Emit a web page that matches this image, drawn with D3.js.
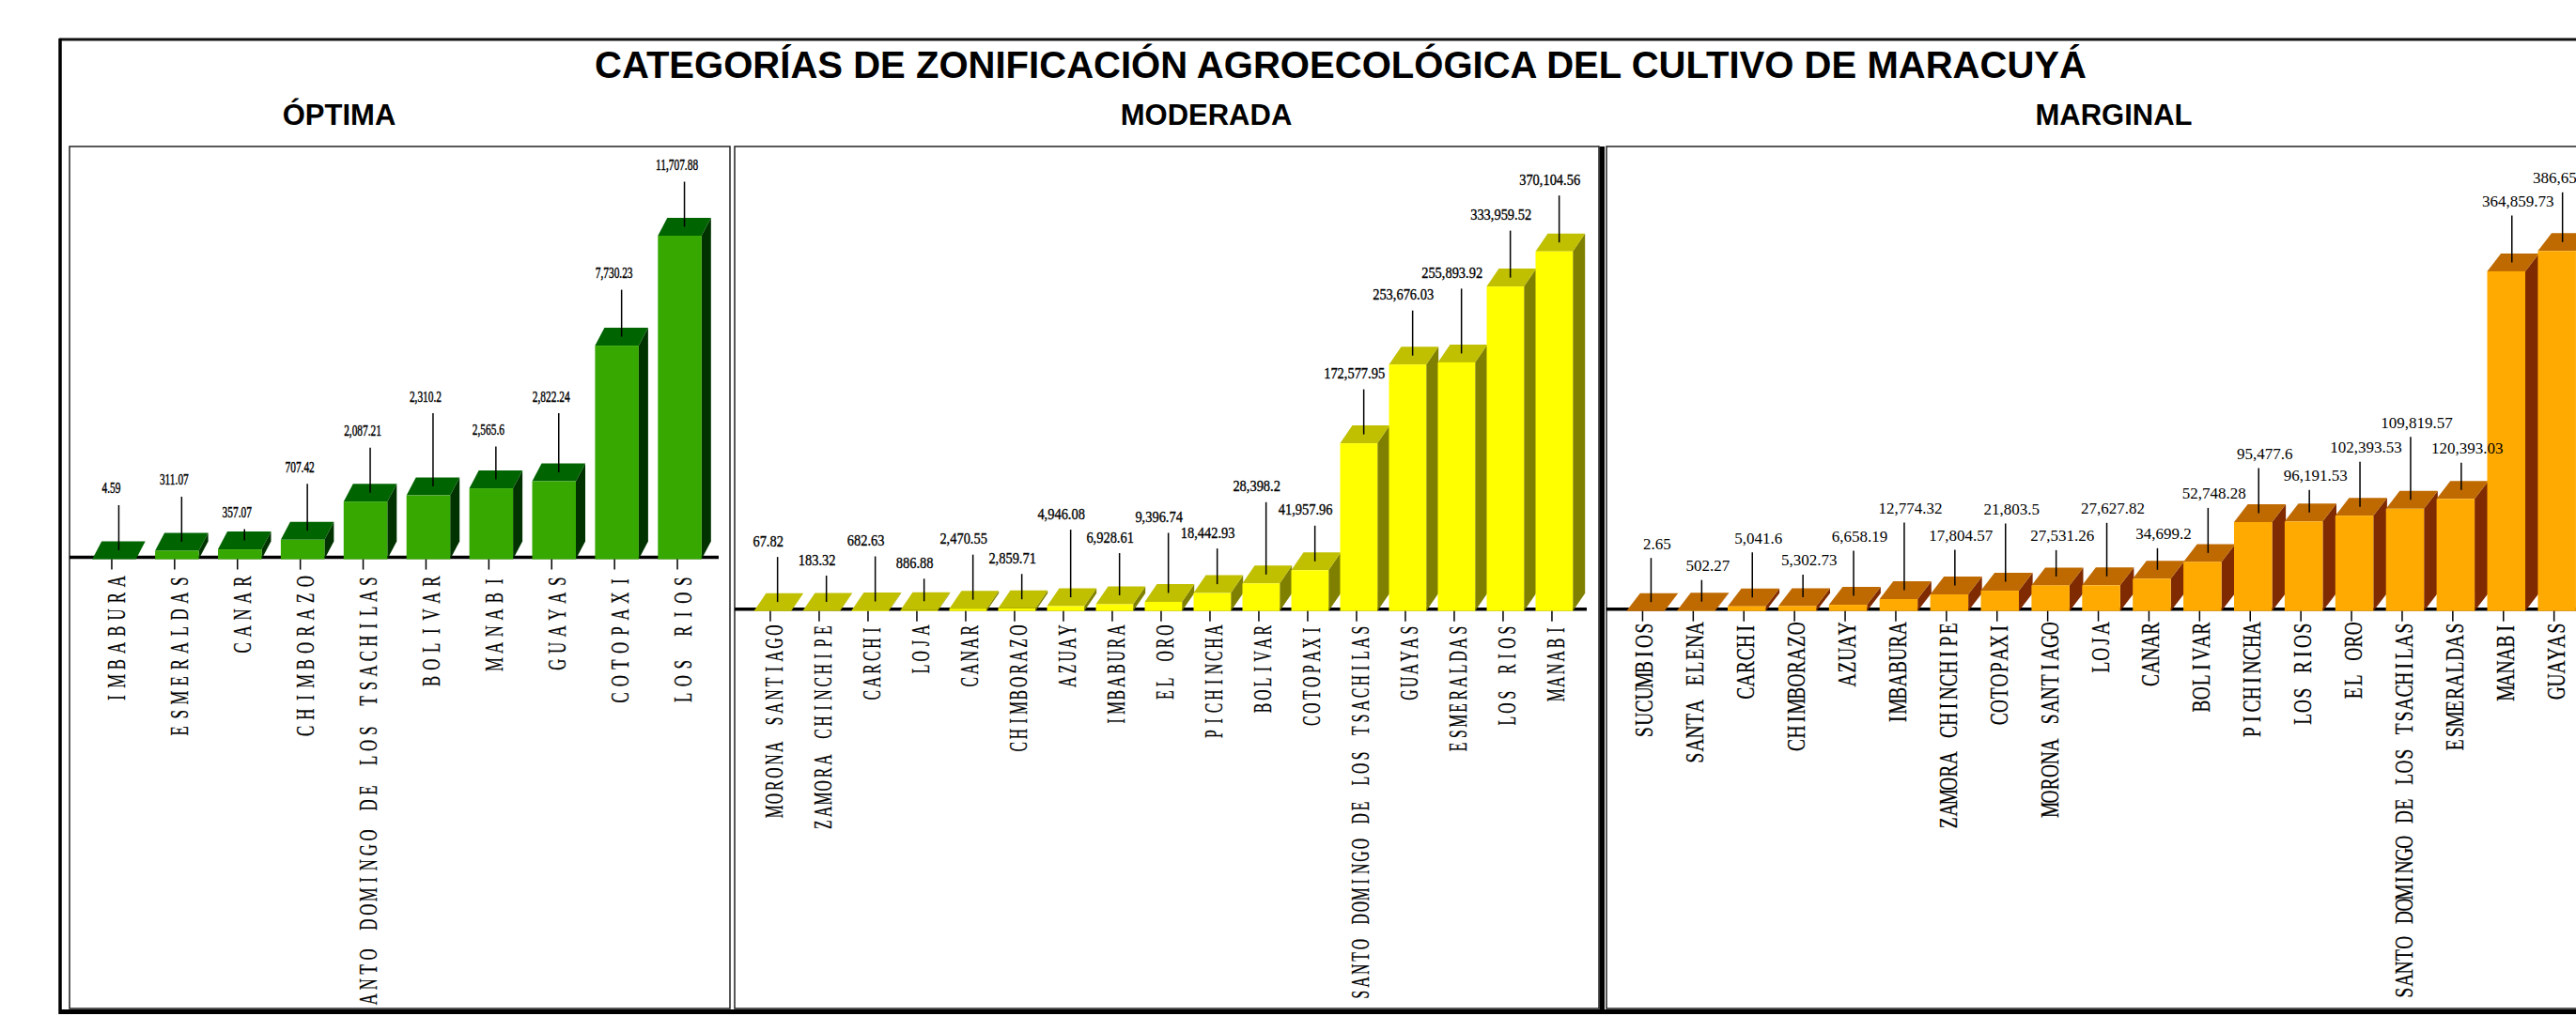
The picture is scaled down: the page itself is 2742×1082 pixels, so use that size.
<!DOCTYPE html>
<html>
<head>
<meta charset="utf-8">
<script src="https://cdn.jsdelivr.net/npm/d3@7"></script>
<style>
    html, body { margin: 0; padding: 0; background: #fff; overflow: hidden; }
    svg { display: block; }
</style>
</head>
<body>
<div id="chart"></div>
<script>
const optimaCategories = ["IMBABURA", "ESMERALDAS", "CANAR", "CHIMBORAZO", "SANTO DOMINGO DE LOS TSACHILAS",
    "BOLIVAR", "MANABI", "GUAYAS", "COTOPAXI", "LOS RIOS"];
const optimaValues = [4.59, 311.07, 357.07, 707.42, 2087.21, 2310.2, 2565.6, 2822.24, 7730.23, 11707.88];

const moderadaCategories = ["MORONA SANTIAGO", "ZAMORA CHINCHIPE", "CARCHI", "LOJA", "CANAR", "CHIMBORAZO", "AZUAY",
    "IMBABURA", "EL ORO", "PICHINCHA", "BOLIVAR", "COTOPAXI", "SANTO DOMINGO DE LOS TSACHILAS", "GUAYAS",
    "ESMERALDAS", "LOS RIOS", "MANABI"];
const moderadaValues = [67.82, 183.32, 682.63, 886.88, 2470.55, 2859.71, 4946.08, 6928.61, 9396.74, 18442.93,
    28398.2, 41957.96, 172577.95, 253676.03, 255893.92, 333959.52, 370104.56];

const marginalCategories = ["SUCUMBIOS", "SANTA ELENA", "CARCHI", "CHIMBORAZO", "AZUAY", "IMBABURA",
    "ZAMORA CHINCHIPE", "COTOPAXI", "MORONA SANTIAGO", "LOJA", "CANAR", "BOLIVAR", "PICHINCHA", "LOS RIOS",
    "EL ORO", "SANTO DOMINGO DE LOS TSACHILAS", "ESMERALDAS", "MANABI", "GUAYAS"];
const marginalValues = [2.65, 502.27, 5041.6, 5302.73, 6658.19, 12774.32, 17804.57, 21803.5, 27531.26, 27627.82,
    34699.2, 52748.28, 95477.6, 96191.53, 102393.53, 109819.57, 120393.03, 364859.73, 386652.41];

// leader line lengths, the labels are staggered by hand in the original
const optimaLeaders = [48, 48, 12, 50, 48, 78, 35, 63, 50, 48];
const moderadaLeaders = [48, 28, 48, 24, 48, 27, 72, 45, 64, 38, 77, 38, 48, 48, 69, 50, 50];
const marginalLeaders = [47, 23, 48, 24, 48, 72, 38, 62, 28, 57, 23, 48, 48, 24, 48, 67, 29, 50, 53];

const panels = [
    {
        id: "optima", title: "ÓPTIMA", titleX: 361,
        categories: optimaCategories, values: optimaValues, leaders: optimaLeaders,
        frame: [74, 777], start: 98.2, step: 66.9, barW: 46.5, dx: 10,
        base: 595.6, top: 251, lineEnd: 765,
        front: "#36a800", roof: "#006400", side: "#003300",
        tickOff: -2.5, leaderOff: 5, labelOff: -8, labelUp: 18, labelScale: 0.67, labelStroke: 0.45,
        catOff: 5.5, catTop: 18, catAdv: 17.7, catMax: 461, catScale: 0.62
    },
    {
        id: "moderada", title: "MODERADA", titleX: 1284,
        categories: moderadaCategories, values: moderadaValues, leaders: moderadaLeaders,
        frame: [782, 1702], start: 802.5, step: 52, barW: 39.7, dx: 13,
        base: 650.7, top: 267.7, lineEnd: 1689,
        front: "#ffff00", roof: "#c0c000", side: "#808000",
        tickOff: -2.4, leaderOff: 5.3, labelOff: -10, labelUp: 17, labelScale: 0.85, labelStroke: 0.35,
        catOff: 4, catTop: 15, catAdv: 13.8, catMax: 388, catScale: 0.58
    },
    {
        id: "marginal", title: "MARGINAL", titleX: 2250,
        categories: marginalCategories, values: marginalValues, leaders: marginalLeaders,
        frame: [1710, 2760], start: 1731.2, step: 53.9, barW: 40.5, dx: 14.6,
        base: 650.7, top: 267.3, lineEnd: 2760,
        front: "#ffaa00", roof: "#bf6a00", side: "#7f2a00",
        tickOff: -3, leaderOff: 6, labelOff: 6.5, labelUp: 15, labelScale: 1, labelStroke: 0,
        catOff: 2, catTop: 13, catAdv: 13.8, catMax: 388, catScale: 0.72
    }
];

const width = 2742;
const height = 1082;
const panelTop = 156;
const panelBottom = 1074;
const depthY = 19;
const serif = "'Liberation Serif', serif";
const sans = "'Liberation Sans', Arial, sans-serif";
const fmt = d3.format(",.2~f");

const svg = d3.select("#chart")
    .append("svg")
    .attr("width", width)
    .attr("height", height);

svg.append("rect").attr("width", width).attr("height", height).attr("fill", "#fff");

// outer frame
svg.append("line").attr("x1", 63).attr("x2", width).attr("y1", 42).attr("y2", 42)
    .attr("stroke", "#111").attr("stroke-width", 3);
svg.append("line").attr("x1", 64).attr("x2", 64).attr("y1", 41).attr("y2", 1080)
    .attr("stroke", "#000").attr("stroke-width", 3.5);
svg.append("line").attr("x1", 63).attr("x2", width).attr("y1", 1077.5).attr("y2", 1077.5)
    .attr("stroke", "#000").attr("stroke-width", 5);
svg.append("rect").attr("x", 1702.5).attr("y", panelTop).attr("width", 5.5).attr("height", 921).attr("fill", "#000");

svg.append("text")
    .attr("x", 1427).attr("y", 83)
    .attr("text-anchor", "middle")
    .attr("font-family", sans).attr("font-weight", "bold").attr("font-size", 40)
    .attr("textLength", 1588).attr("lengthAdjust", "spacingAndGlyphs")
    .text("CATEGORÍAS DE ZONIFICACIÓN AGROECOLÓGICA DEL CULTIVO DE MARACUYÁ");

panels.forEach(drawPanel);

function drawPanel(p) {
    const n = p.categories.length;
    const g = svg.append("g").attr("class", p.id);

    g.append("text")
        .attr("x", p.titleX).attr("y", 133)
        .attr("text-anchor", "middle")
        .attr("font-family", sans).attr("font-weight", "bold").attr("font-size", 31)
        .text(p.title);

    // panel box
    g.append("rect")
        .attr("x", p.frame[0]).attr("y", panelTop)
        .attr("width", p.frame[1] - p.frame[0]).attr("height", panelBottom - panelTop)
        .attr("fill", "#fff").attr("stroke", "#222").attr("stroke-width", 1.5);

    const clipId = "clip-" + p.id;
    g.append("clipPath").attr("id", clipId)
        .append("rect")
        .attr("x", p.frame[0]).attr("y", panelTop)
        .attr("width", p.frame[1] - p.frame[0]).attr("height", panelBottom - panelTop);

    const x = d3.scaleBand()
        .domain(d3.range(n))
        .range([p.start, p.start + (n - 1) * p.step + p.barW])
        .paddingInner(1 - p.barW / p.step)
        .paddingOuter(0);

    const y = d3.scaleLinear()
        .domain([0, d3.max(p.values)])
        .range([p.base, p.top]);

    // baseline
    g.append("line")
        .attr("x1", p.frame[0]).attr("x2", p.lineEnd)
        .attr("y1", p.base - 2).attr("y2", p.base - 2)
        .attr("stroke", "#000").attr("stroke-width", 3.5);

    const bars = g.selectAll(".bar")
        .data(p.values)
        .enter()
        .append("g")
        .attr("class", "bar");

    bars.append("polygon")
        .attr("fill", p.side)
        .attr("points", (d, i) => {
            const r = x(i) + x.bandwidth();
            return [[r, y(d)], [r + p.dx, y(d) - depthY], [r + p.dx, p.base - depthY], [r, p.base]].join(" ");
        });

    bars.append("polygon")
        .attr("fill", p.roof)
        .attr("points", (d, i) => {
            const l = x(i), r = l + x.bandwidth();
            return [[l, y(d)], [l + p.dx, y(d) - depthY], [r + p.dx, y(d) - depthY], [r, y(d)]].join(" ");
        });

    bars.append("rect")
        .attr("fill", p.front)
        .attr("x", (d, i) => x(i))
        .attr("y", d => y(d))
        .attr("width", x.bandwidth())
        .attr("height", d => p.base - y(d));

    const center = i => x(i) + x.bandwidth() / 2;

    // leader lines and value labels
    g.selectAll(".leader")
        .data(p.values)
        .enter()
        .append("line")
        .attr("class", "leader")
        .attr("x1", (d, i) => center(i) + p.leaderOff)
        .attr("x2", (d, i) => center(i) + p.leaderOff)
        .attr("y1", d => y(d) - 9.5)
        .attr("y2", (d, i) => y(d) - 9.5 - p.leaders[i])
        .attr("stroke", "#000")
        .attr("stroke-width", 1.5);

    g.selectAll(".value")
        .data(p.values)
        .enter()
        .append("text")
        .attr("class", "value")
        .attr("text-anchor", "middle")
        .attr("font-family", serif)
        .attr("font-size", 17)
        .attr("fill", "#000")
        .attr("stroke", "#000")
        .attr("stroke-width", p.labelStroke)
        .attr("transform", (d, i) => {
            const lx = center(i) + p.leaderOff + p.labelOff;
            const ly = y(d) - 9.5 - p.leaders[i] - p.labelUp + 5.5;
            return `translate(${lx},${ly}) scale(${p.labelScale},1)`;
        })
        .text(d => fmt(d));

    // axis, ticks come from the band scale, the tick text gets rebuilt below
    const axis = g.append("g")
        .attr("transform", `translate(${p.tickOff},${p.base})`)
        .call(d3.axisBottom(x).tickSize(11).tickSizeOuter(0).tickFormat(i => p.categories[i]));

    axis.select(".domain").remove();
    axis.selectAll(".tick line").attr("stroke", "#000").attr("stroke-width", 1.5);

    axis.selectAll(".tick text")
        .attr("font-family", serif)
        .attr("font-size", 27)
        .attr("fill", "#000")
        .attr("stroke", "#000")
        .attr("stroke-width", 0.25)
        .attr("text-anchor", "middle")
        .attr("dy", null)
        .attr("y", 9)
        .attr("x", d => {
            // every letter gets its own slot, the original is almost monospaced
            const len = p.categories[d].length;
            const adv = Math.min(p.catAdv, p.catMax / (len - 1));
            return d3.range(len).map(c => -(5.5 + (len - 1 - c) * adv) / p.catScale).join(" ");
        })
        .attr("transform", `translate(${p.catOff},${p.catTop}) rotate(-90) scale(${p.catScale},1)`);

    // panel one cuts the long label at the box edge
    g.append("g").attr("clip-path", `url(#${clipId})`).node().appendChild(axis.node());
}
</script>
</body>
</html>
